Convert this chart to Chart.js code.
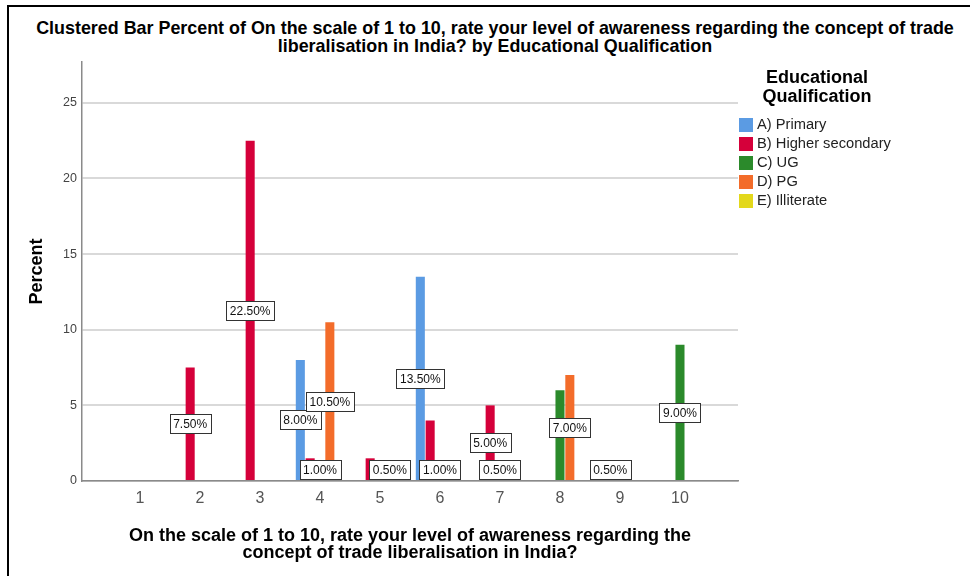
<!DOCTYPE html>
<html>
<head>
<meta charset="utf-8">
<title>Clustered Bar Percent by Educational Qualification</title>
<script src="https://cdn.jsdelivr.net/npm/chart.js@4"></script>
<style>
  html, body { margin: 0; padding: 0; background: #fff; overflow: hidden; }
  #frame { position: absolute; left: 7px; top: 5px; width: 961px; height: 569px; border-left: 2px solid #000; border-top: 2px solid #000; }
  #title { position: absolute; left: 22px; top: 19px; width: 946px; text-align: center; white-space: nowrap;
           font: bold 17.9px/18px "Liberation Sans", Arial, sans-serif; color: #000; }
  canvas { position: absolute; left: 0; top: 0; }
</style>
</head>
<body>
<div id="frame"></div>
<div id="title">Clustered Bar Percent of On the scale of 1 to 10, rate your level of awareness regarding the concept of trade<br>liberalisation in India? by Educational Qualification</div>
<canvas id="chart" width="970" height="576"></canvas>
<script>
// awareness rating (x axis)
const ratings = [1, 2, 3, 4, 5, 6, 7, 8, 9, 10];

// percent of respondents per rating, one list per qualification
const primary         = [0, 0,   0,    8,   0,   13.5, 0,   0, 0,   0];
const higherSecondary = [0, 7.5, 22.5, 1.5, 1.5, 4,    5,   0, 0.5, 0];
const ug              = [0, 0,   0,    1,   0,   1,    0.5, 6, 0,   9];
const pg              = [0, 0,   0,    10.5, 0.5, 0,   0,   7, 0,   0];
const illiterate      = [0, 0,   0,    0,   0,   0,    0,   0, 0,   0];

const yTicks = [0, 5, 10, 15, 20, 25];

// labels that get dropped because they collide with a neighbour's label
const droppedLabels = [['B) Higher secondary', 4], ['B) Higher secondary', 5], ['B) Higher secondary', 6], ['C) UG', 8]];

const FONT = '"Liberation Sans", Arial, sans-serif';

const series = [
  { label: 'A) Primary', values: primary, color: '#5B9BE3' },
  { label: 'B) Higher secondary', values: higherSecondary, color: '#D5003A' },
  { label: 'C) UG', values: ug, color: '#2B8A2B' },
  { label: 'D) PG', values: pg, color: '#F36C2A' },
  { label: 'E) Illiterate', values: illiterate, color: '#E3D81C' },
];

const isDropped = (label, rating) => droppedLabels.some(([l, r]) => l === label && r === rating);

// boxed value labels, centred on the bar and kept above the axis
const barLabels = {
  id: 'barLabels',
  afterDatasetsDraw(chart) {
    const { ctx } = chart;
    const floor = chart.scales.y.getPixelForValue(0);
    const h = 19;
    ctx.save();
    ctx.font = '12px ' + FONT;
    ctx.textAlign = 'center';
    ctx.textBaseline = 'middle';
    chart.data.datasets.forEach((ds, i) => {
      chart.getDatasetMeta(i).data.forEach((bar, j) => {
        const v = ds.data[j].y;
        if (!v || isDropped(ds.label, ratings[j])) return;
        const text = v.toFixed(2) + '%';
        const w = Math.round(ctx.measureText(text).width) + 7;
        const cy = Math.min((bar.y + bar.base) / 2, floor - 2 - h / 2);
        const x0 = Math.round(bar.x - w / 2) + 0.5;
        const y0 = Math.round(cy - h / 2) + 0.5;
        ctx.fillStyle = '#fff';
        ctx.fillRect(x0, y0, w, h);
        ctx.strokeStyle = '#333';
        ctx.lineWidth = 1;
        ctx.strokeRect(x0, y0, w, h);
        ctx.fillStyle = '#111';
        ctx.fillText(text, bar.x, y0 + h / 2 + 0.5);
      });
    });
    ctx.restore();
  }
};

// legend block on the right of the plot
const sideLegend = {
  id: 'sideLegend',
  afterDraw(chart) {
    const { ctx } = chart;
    const x = chart.chartArea.right + 1;
    ctx.save();
    ctx.fillStyle = '#000';
    ctx.font = 'bold 18px ' + FONT;
    ctx.textAlign = 'center';
    ctx.textBaseline = 'middle';
    ['Educational', 'Qualification'].forEach((line, i) => ctx.fillText(line, 817, 78 + i * 19));
    ctx.font = '14.7px ' + FONT;
    ctx.textAlign = 'left';
    chart.data.datasets.forEach((ds, i) => {
      const y = 125 + i * 19;
      ctx.fillStyle = ds.backgroundColor;
      ctx.fillRect(x, y - 7, 14, 14);
      ctx.fillStyle = '#222';
      ctx.fillText(ds.label, x + 18, y);
    });
    ctx.restore();
  }
};

new Chart(document.getElementById('chart'), {
  type: 'bar',
  data: {
    datasets: series.map(s => ({
      label: s.label,
      data: ratings.map((r, i) => ({ x: r, y: s.values[i] })),
      backgroundColor: s.color,
      borderWidth: 0,
      categoryPercentage: 0.82,
      barPercentage: 0.92,
    })),
  },
  options: {
    responsive: false,
    animation: false,
    devicePixelRatio: 1,
    layout: { padding: { top: 62, left: 8, right: 232, bottom: 10 } },
    plugins: { legend: { display: false }, tooltip: { enabled: false } },
    scales: {
      x: {
        type: 'linear',
        offset: false,
        min: 0.033,
        max: 10.967,
        afterBuildTicks: s => { s.ticks = ratings.map(v => ({ value: v })); },
        afterFit: s => { s.height = 85; },
        grid: { display: false, drawTicks: false },
        border: { color: '#8a8a8a', width: 1.5 },
        ticks: { padding: 8, color: '#555', font: { family: FONT, size: 16 } },
        title: {
          display: true,
          text: ['On the scale of 1 to 10, rate your level of awareness regarding the', 'concept of trade liberalisation in India?'],
          color: '#000',
          font: { family: FONT, size: 18, weight: 'bold', lineHeight: 0.95 },
          padding: { top: 0, bottom: 4 },
        },
      },
      y: {
        min: 0,
        max: 27.7,
        afterBuildTicks: s => { s.ticks = yTicks.map(v => ({ value: v })); },
        afterFit: s => { s.width = 74; },
        grid: { color: '#d9d9d9', lineWidth: 2, drawTicks: false },
        border: { color: '#8a8a8a', width: 1.5 },
        ticks: { padding: 5, color: '#444', font: { family: FONT, size: 12.5 } },
        title: {
          display: true,
          text: 'Percent',
          color: '#000',
          font: { family: FONT, size: 18, weight: 'bold' },
          padding: { top: 18, bottom: 0 },
        },
      },
    },
  },
  plugins: [barLabels, sideLegend],
});
</script>
</body>
</html>
